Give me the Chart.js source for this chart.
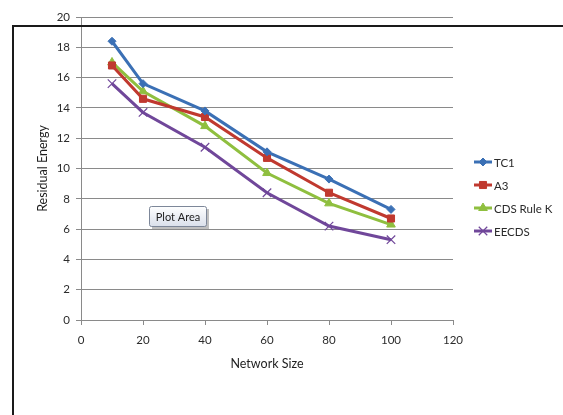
<!DOCTYPE html>
<html lang="en">
<head>
    <meta charset="UTF-8">
    <title>Residual Energy</title>
    <script src="https://cdn.jsdelivr.net/npm/chart.js"></script>
    <style>
        html, body { margin: 0; padding: 0; background: #fff; }
        #box { width: 563px; height: 415px; }
    </style>
</head>
<body>
    <div id="box">
        <canvas id="grafico"></canvas>
    </div>

<script>
// dados
const tamanhos = [10, 20, 40, 60, 80, 100];
const tc1 = [18.4, 15.6, 13.8, 11.1, 9.3, 7.3];
const a3 = [16.8, 14.6, 13.4, 10.7, 8.4, 6.7];
const cdsRuleK = [17.0, 15.1, 12.8, 9.7, 7.7, 6.3];
const eecds = [15.6, 13.7, 11.4, 8.4, 6.2, 5.3];

const xTicks = [0, 20, 40, 60, 80, 100, 120];
const yTicks = [0, 2, 4, 6, 8, 10, 12, 14, 16, 18, 20];

const fonte = 'Lato, "Open Sans", sans-serif';
const corTexto = '#2b2b2b';
const corGrade = '#8a8a8a';

function serie(label, valores, cor, ponto, raio) {
    return {
        label: label,
        data: tamanhos.map((x, i) => ({ x: x, y: valores[i] })),
        borderColor: cor,
        backgroundColor: cor,
        borderWidth: 3,
        pointStyle: ponto,
        pointRadius: raio,
        pointBorderWidth: ponto === 'crossRot' ? 1.2 : 1,
        tension: 0
    };
}

// legenda desenhada a mao (linha + marcador, estilo excel)
const legendaExcel = {
    id: 'legendaExcel',
    afterDraw(chart) {
        const ctx = chart.ctx;
        const linhas = [162, 185, 208, 231];
        chart.data.datasets.forEach((ds, i) => {
            const y = linhas[i];
            ctx.save();
            ctx.strokeStyle = ds.borderColor;
            ctx.lineWidth = 3;
            ctx.beginPath();
            ctx.moveTo(474, y);
            ctx.lineTo(492, y);
            ctx.stroke();
            ctx.fillStyle = ds.backgroundColor;
            ctx.strokeStyle = ds.borderColor;
            ctx.lineWidth = ds.pointBorderWidth;
            Chart.helpers.drawPoint(ctx, { pointStyle: ds.pointStyle, radius: ds.pointRadius, borderWidth: ds.pointBorderWidth }, 483, y);
            ctx.fillStyle = corTexto;
            ctx.font = '11.5px ' + fonte;
            ctx.textBaseline = 'middle';
            ctx.fillText(ds.label, 494, y + 1);
            ctx.restore();
        });
    }
};

// moldura preta e a caixinha "Plot Area"
const extras = {
    id: 'extras',
    afterDraw(chart) {
        const ctx = chart.ctx;
        ctx.save();
        ctx.strokeStyle = '#1a1a1a';
        ctx.lineWidth = 2;
        ctx.beginPath();
        ctx.moveTo(13, 415);
        ctx.lineTo(13, 26);
        ctx.lineTo(563, 26);
        ctx.stroke();

        // sombra
        ctx.fillStyle = 'rgba(0,0,0,0.25)';
        ctx.fillRect(152, 209, 57, 20);
        const g = ctx.createLinearGradient(0, 206, 0, 227);
        g.addColorStop(0, '#ffffff');
        g.addColorStop(1, '#d9dfea');
        ctx.fillStyle = g;
        ctx.strokeStyle = '#7d8799';
        ctx.lineWidth = 1;
        ctx.beginPath();
        ctx.roundRect(149.5, 206.5, 57, 20, 2);
        ctx.fill();
        ctx.stroke();
        ctx.fillStyle = '#222';
        ctx.font = '11px ' + fonte;
        ctx.textBaseline = 'middle';
        ctx.textAlign = 'center';
        ctx.fillText('Plot Area', 178, 217);
        ctx.restore();
    }
};

const config = {
    type: 'line',
    data: {
        datasets: [
            serie('TC1', tc1, '#3b70b5', 'rectRot', 4),
            serie('A3', a3, '#c0392f', 'rect', 5),
            serie('CDS Rule K', cdsRuleK, '#8fbf3f', 'triangle', 5),
            serie('EECDS', eecds, '#70479a', 'crossRot', 6)
        ]
    },
    options: {
        responsive: true,
        maintainAspectRatio: false,
        animation: false,
        layout: { padding: { top: 17, right: 110, bottom: 40, left: 0 } },
        plugins: {
            legend: { display: false },
            tooltip: { enabled: false }
        },
        scales: {
            x: {
                type: 'linear',
                min: 0,
                max: 120,
                afterBuildTicks(scale) { scale.ticks = xTicks.map(v => ({ value: v })); },
                afterFit(scale) { scale.height = 55; },
                grid: { drawOnChartArea: false, drawTicks: true, tickLength: 5, color: corGrade },
                border: { color: corGrade, width: 1 },
                ticks: { color: corTexto, font: { family: fonte, size: 11.5 }, padding: 8, maxRotation: 0 },
                title: { display: true, text: 'Network Size', color: '#1e1e1e', font: { family: fonte, size: 12.5 }, padding: { top: 4, bottom: 4 } }
            },
            y: {
                min: 0,
                max: 20,
                afterBuildTicks(scale) { scale.ticks = yTicks.map(v => ({ value: v })); },
                afterFit(scale) { scale.width = 81; },
                grid: { color: corGrade, tickLength: 5 },
                border: { color: corGrade, width: 1 },
                ticks: { color: corTexto, font: { family: fonte, size: 11.5 }, padding: 6 },
                title: { display: true, text: 'Residual Energy', color: '#1e1e1e', font: { family: fonte, size: 12.5 }, padding: { top: 35, bottom: 0 } }
            }
        }
    },
    plugins: [legendaExcel, extras]
};

new Chart(document.getElementById('grafico'), config);
</script>
</body>
</html>
